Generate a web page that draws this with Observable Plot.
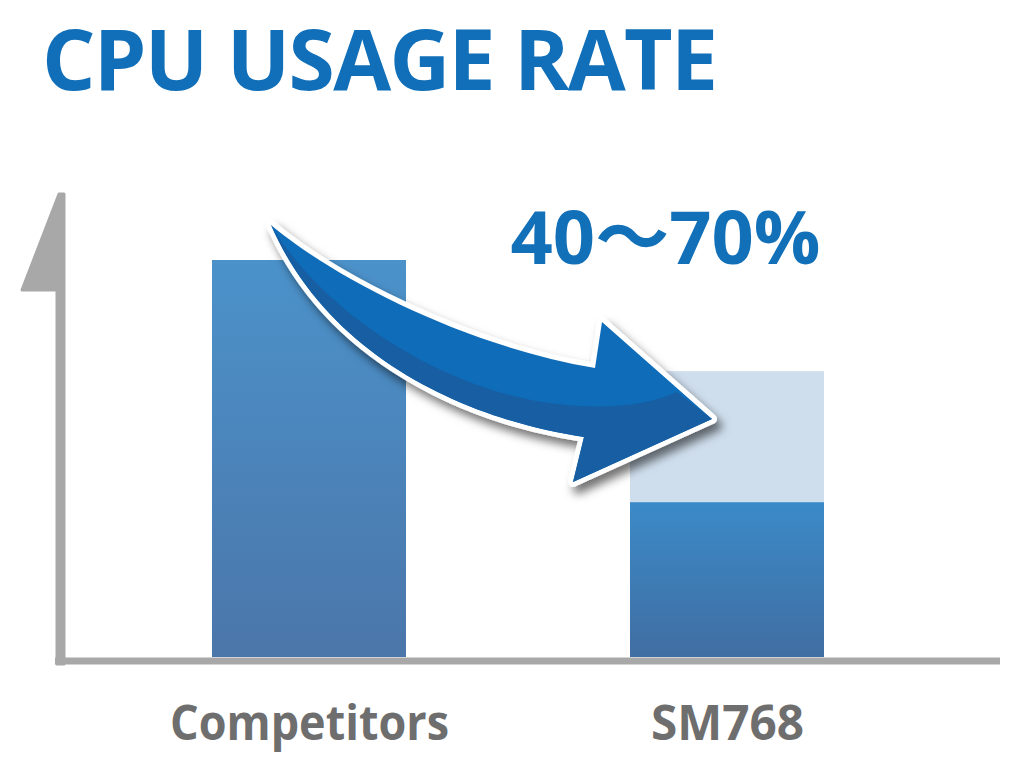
<!DOCTYPE html>
<html>
<head>
<meta charset="utf-8">
<script src="https://cdn.jsdelivr.net/npm/d3@7"></script>
<script src="https://cdn.jsdelivr.net/npm/@observablehq/plot@0.6"></script>
<style>
  html, body { margin: 0; padding: 0; background: #fff; }
  #title {
    height: 110px; margin: 0; padding: 0 0 0 42px; box-sizing: border-box;
    font-family: "Open Sans", sans-serif; font-weight: 700; font-size: 84px;
    line-height: normal; color: #106fb8; white-space: nowrap;
  }
  #titleText { display: inline-block; }
  #chart svg { display: block; }
</style>
</head>
<body>
<div id="title"><span id="titleText">CPU USAGE RATE</span></div>
<div id="chart"></div>
<script>
// ---- data ----
const categories = ["Competitors", "SM768"];
const reducedUsage = [100, 39];   // dark (solid) part of each bar
const maxUsage = [100, 72];       // top of the pale range on SM768
const rangeLabel = "40～70%";

const rows = categories.map((c, i) => ({cat: c, lo: reducedUsage[i], hi: maxUsage[i]}));

// title width fit via letter spacing (no transforms)
const t = document.getElementById("titleText");
const natural = t.getBoundingClientRect().width;
const n = t.textContent.length;
t.style.letterSpacing = `${(676 - natural) / (n - 1)}px`;

const defs = () => {
  const d = d3.create("svg:defs");
  const g1 = d.append("linearGradient").attr("id", "gComp").attr("x1", 0).attr("y1", 0).attr("x2", 0).attr("y2", 1);
  g1.append("stop").attr("offset", "0%").attr("stop-color", "#4b92ca");
  g1.append("stop").attr("offset", "100%").attr("stop-color", "#4b76aa");
  const g2 = d.append("linearGradient").attr("id", "gSM").attr("x1", 0).attr("y1", 0).attr("x2", 0).attr("y2", 1);
  g2.append("stop").attr("offset", "0%").attr("stop-color", "#3b8ac8");
  g2.append("stop").attr("offset", "100%").attr("stop-color", "#406ea2");
  const f = d.append("filter").attr("id", "arrowShadow").attr("x", "-20%").attr("y", "-20%").attr("width", "150%").attr("height", "150%");
  f.append("feDropShadow").attr("dx", 5).attr("dy", 7).attr("stdDeviation", 5)
    .attr("flood-color", "#000").attr("flood-opacity", 0.55);
  return d.node();
};

const chart = Plot.plot({
  width: 1024,
  height: 658,
  marginLeft: 55,
  marginRight: 24,
  marginTop: 0,
  marginBottom: 63,
  style: {fontFamily: "'Open Sans', 'Noto Sans CJK JP', sans-serif", background: "#fff"},
  x: {domain: categories, range: [211, 824], paddingInner: 0.536, paddingOuter: 0, label: null},
  y: {domain: [0, 100], range: [547, 150], axis: null},
  color: {type: "identity"},
  marks: [
    defs,
    Plot.barY(rows, {x: "cat", y1: "lo", y2: "hi", fill: "#cfdeed"}),
    Plot.barY(rows, {x: "cat", y1: 0, y2: "lo", fill: d => d.cat === "SM768" ? "url(#gSM)" : "url(#gComp)"}),
    Plot.ruleY([0], {stroke: "#a8a8a8", strokeWidth: 7, dy: 3.5}),
    Plot.axisX({tickSize: 0, tickPadding: 0, fontSize: 48, fontWeight: "bold", fill: "#6e6e6e", label: null}),
    Plot.text([rangeLabel], {
      x: () => "SM768", y: () => 100, text: d => d, dx: -62, dy: 3,
      textAnchor: "middle", lineAnchor: "bottom",
      fontSize: 74, fontWeight: "bold", fill: "#1170b8",
      fontFamily: "'Open Sans', 'Noto Sans CJK JP', sans-serif"
    })
  ]
});

document.getElementById("chart").append(chart);

// tighten the category labels to the reference widths
const labelWidths = {"Competitors": 279, "SM768": 153};
d3.select(chart).selectAll("text").each(function() {
  const s = this.textContent;
  if (labelWidths[s]) {
    this.setAttribute("textLength", labelWidths[s]);
    this.setAttribute("lengthAdjust", "spacingAndGlyphs");
  }
});

// decorative y-axis with arrow head and the curved reduction arrow (page coords, shifted by title height)
const svg = d3.select(chart);
const deco = svg.append("g").attr("transform", "translate(0,-110)");
deco.append("path")
  .attr("d", "M59,194 L64,194 L64,664 L57,664 L57,290 L22,290 Z")
  .attr("fill", "#a8a8a8").attr("stroke", "#a8a8a8").attr("stroke-width", 3).attr("stroke-linejoin", "round");

const arrowOutline = "M271,225 C330,275 460,345 595,368 L602,322 L712,419 L573,482 L584,437 C470,420 330,360 271,225 Z";
const arrowDark = "M271,225 C320,310 450,400 580,406 Q640,409 677,392 L712,419 L573,482 L584,437 C470,420 330,360 271,225 Z";
const ag = svg.append("g").attr("transform", "translate(0,-110)");
ag.append("path").attr("d", arrowOutline).attr("fill", "#fff").attr("stroke", "#fff")
  .attr("stroke-width", 10).attr("stroke-linejoin", "round").attr("filter", "url(#arrowShadow)");
ag.append("path").attr("d", arrowOutline).attr("fill", "#0f6cb8");
ag.append("path").attr("d", arrowDark).attr("fill", "#175ea2");
</script>
</body>
</html>
